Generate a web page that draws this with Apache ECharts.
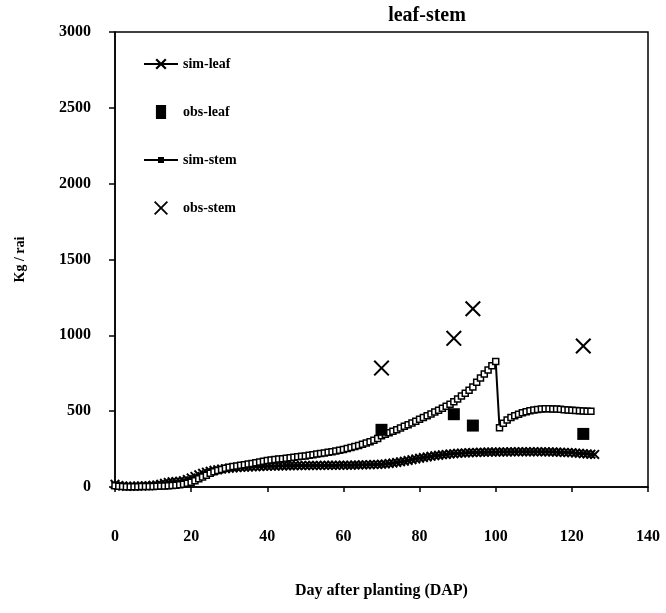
<!DOCTYPE html>
<html>
<head>
<meta charset="utf-8">
<script src="https://cdn.jsdelivr.net/npm/echarts@6/dist/echarts.min.js"></script>
<style>
  html, body { margin: 0; padding: 0; background: #fff; }
  #chart { width: 666px; height: 613px; }
</style>
</head>
<body>
<div id="chart"></div>
<script>
// Simulated leaf biomass (kg/rai), one value per day after planting, starting at day 0
const simLeaf = [
  18, 10, 6, 5, 5, 5, 6, 7, 8, 9,
  11, 14, 18, 24, 30, 34, 36, 38, 42, 50,
  60, 70, 80, 90, 98, 104, 110, 114, 118, 121,
  124, 126, 128, 130, 131, 132, 133, 134, 135, 136,
  137, 138, 138, 139, 139, 140, 140, 140, 141, 141,
  141, 142, 142, 142, 142, 143, 143, 143, 143, 144,
  144, 144, 144, 145, 145, 146, 146, 147, 148, 149,
  150, 152, 155, 158, 162, 166, 170, 175, 180, 185,
  190, 194, 198, 202, 206, 209, 212, 215, 218, 220,
  222, 224, 225, 226, 227, 228, 229, 229, 230, 230,
  230, 231, 231, 231, 232, 232, 232, 232, 232, 232,
  232, 232, 232, 232, 231, 231, 230, 229, 228, 227,
  226, 224, 222, 220, 218, 216, 215
];

// Simulated stem biomass (kg/rai), one value per day after planting, starting at day 0
const simStem = [
  8, 5, 3, 2, 2, 2, 2, 3, 3, 4,
  4, 5, 6, 7, 8, 10, 12, 15, 18, 24,
  32, 42, 54, 66, 78, 90, 100, 108, 116, 124,
  130, 135, 139, 143, 147, 151, 155, 160, 165, 170,
  175, 178, 181, 184, 187, 190, 193, 196, 199, 202,
  205, 209, 213, 217, 221, 225, 229, 233, 237, 242,
  248, 254, 260, 267, 274, 282, 290, 299, 309, 319,
  338, 348, 358, 368, 378, 389, 400, 411, 422, 434,
  446, 458, 470, 482, 494, 506, 519, 532, 546, 562,
  580, 600, 618, 638, 660, 690, 718, 745, 772, 800,
  828, 390, 420, 442, 458, 470, 480, 489, 496, 502,
  507, 511, 514, 516, 516, 515, 514, 512, 510, 508,
  506, 504, 502, 501, 500, 500
];

// Field observations
const obsDays = [70, 89, 94, 123];
const obsLeaf = [377, 480, 405, 350];
const obsStem = [784, 980, 1175, 930];

// Axis ticks
const xTicks = [0, 20, 40, 60, 80, 100, 120, 140];
const yTicks = [0, 500, 1000, 1500, 2000, 2500, 3000];

const toPairs = (vals) => vals.map((v, d) => [d, v]);
const obsPairs = (vals) => vals.map((v, i) => [obsDays[i], v]);

const serif = '"Liberation Serif", "DejaVu Serif", serif';
// Filled cross outlines: a bold one for the simulated-leaf markers, a medium one for observations
const crossPath = 'path://M0,1.4L1.4,0L5,3.6L8.6,0L10,1.4L6.4,5L10,8.6L8.6,10L5,6.4L1.4,10L0,8.6L3.6,5Z';
const obsCross = 'path://M0,0.9L0.9,0L5,4.1L9.1,0L10,0.9L5.9,5L10,9.1L9.1,10L5,5.9L0.9,10L0,9.1L4.1,5Z';
// Legend glyphs: line with a small square, upright block
const stemIcon = 'path://M0,6.1H14V4H20V6.1H34V7.9H20V10H14V7.9H0Z';
const blockIcon = 'path://M0,0H8V11H0Z';

const chart = echarts.init(document.getElementById('chart'), null, { renderer: 'canvas' });

chart.setOption({
  backgroundColor: '#ffffff',
  animation: false,
  title: {
    text: 'leaf-stem',
    left: 422,
    top: 1,
    textAlign: 'center',
    textStyle: { fontFamily: serif, fontWeight: 'bold', fontSize: 20, color: '#000' }
  },
  legend: {
    orient: 'vertical',
    left: 138,
    top: 52,
    itemWidth: 34,
    itemHeight: 14,
    itemGap: 34,
    textStyle: { fontFamily: serif, fontWeight: 'bold', fontSize: 14, color: '#000' },
    data: [
      { name: 'sim-leaf' },
      { name: 'obs-leaf', icon: blockIcon },
      { name: 'sim-stem', icon: stemIcon, itemStyle: { color: '#000', borderColor: '#000', borderWidth: 0 } },
      { name: 'obs-stem', icon: obsCross }
    ]
  },
  grid: {
    left: 115,
    right: 18,
    top: 32,
    bottom: 126,
    show: true,
    borderColor: '#000',
    borderWidth: 1.5,
    backgroundColor: 'transparent'
  },
  xAxis: {
    type: 'value',
    min: xTicks[0],
    max: xTicks[xTicks.length - 1],
    interval: 20,
    name: 'Day after planting (DAP)',
    nameLocation: 'middle',
    nameGap: 96,
    nameTextStyle: { fontFamily: serif, fontWeight: 'bold', fontSize: 16, color: '#000' },
    axisLine: { show: true, lineStyle: { color: '#000', width: 1.5 } },
    axisTick: { show: true, inside: false, length: 5, lineStyle: { color: '#000', width: 1.5 } },
    axisLabel: { margin: 42, fontFamily: serif, fontWeight: 'bold', fontSize: 16, color: '#000' },
    splitLine: { show: false }
  },
  yAxis: {
    type: 'value',
    min: yTicks[0],
    max: yTicks[yTicks.length - 1],
    interval: 500,
    name: 'Kg / rai',
    nameLocation: 'middle',
    nameGap: 88,
    nameRotate: 90,
    nameTextStyle: { fontFamily: serif, fontWeight: 'bold', fontSize: 14, color: '#000' },
    axisLine: { show: true, lineStyle: { color: '#000', width: 1.5 } },
    axisTick: { show: true, inside: false, length: 6, lineStyle: { color: '#000', width: 1.5 } },
    axisLabel: {
      margin: 24,
      fontFamily: serif,
      fontWeight: 'bold',
      fontSize: 16,
      color: '#000',
      formatter: (v) => String(v)
    },
    splitLine: { show: false }
  },
  series: [
    {
      name: 'sim-leaf',
      type: 'line',
      data: toPairs(simLeaf),
      symbol: crossPath,
      symbolSize: 10,
      showAllSymbol: true,
      lineStyle: { color: '#000', width: 2 },
      itemStyle: { color: '#000', opacity: 1 },
      z: 3
    },
    {
      name: 'obs-leaf',
      type: 'scatter',
      data: obsPairs(obsLeaf),
      symbol: 'rect',
      symbolSize: 12,
      itemStyle: { color: '#000', opacity: 1 },
      z: 4
    },
    {
      name: 'sim-stem',
      type: 'line',
      data: toPairs(simStem),
      symbol: 'rect',
      symbolSize: 6,
      showAllSymbol: true,
      lineStyle: { color: '#000', width: 2 },
      itemStyle: { color: '#fff', borderColor: '#000', borderWidth: 1.5, opacity: 1 },
      z: 3
    },
    {
      name: 'obs-stem',
      type: 'scatter',
      data: obsPairs(obsStem),
      symbol: obsCross,
      symbolSize: 16,
      itemStyle: { color: '#000', opacity: 1 },
      z: 4
    }
  ]
});
</script>
</body>
</html>
